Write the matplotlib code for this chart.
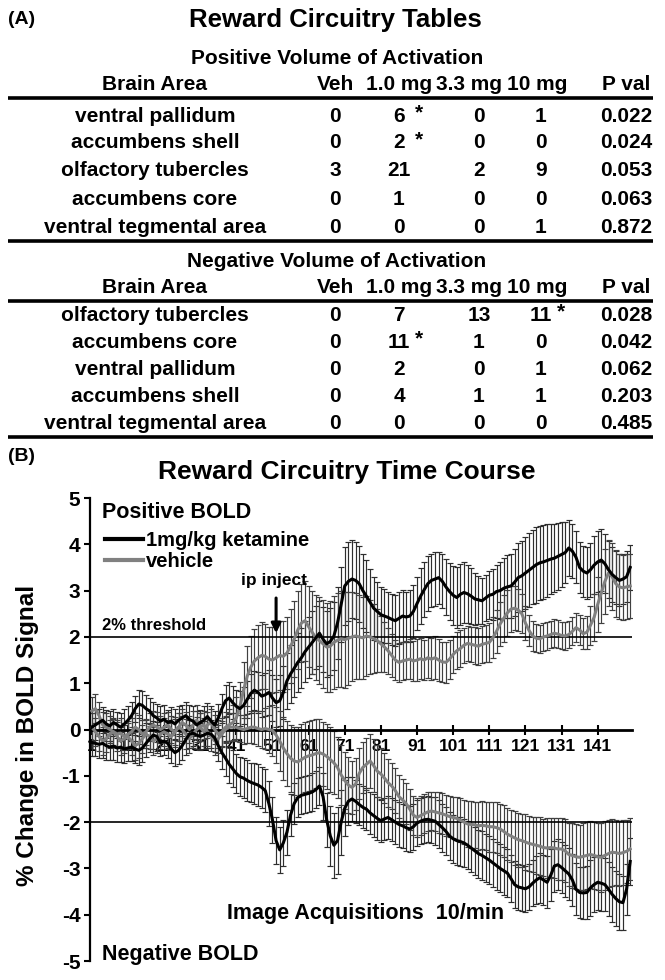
import numpy as np
import matplotlib
matplotlib.use('Agg')
import matplotlib.pyplot as plt
from matplotlib.lines import Line2D

plt.rcParams['font.family'] = ['Liberation Sans', 'DejaVu Sans']
plt.rcParams['font.weight'] = 'bold'

# ---------------- table data ----------------
col_names = ['Brain Area', 'Veh', '1.0 mg', '3.3 mg', '10 mg', 'P val']
pos_areas = ['ventral pallidum', 'accumbens shell', 'olfactory tubercles',
             'accumbens core', 'ventral tegmental area']
pos_veh = ['0', '0', '3', '0', '0']
pos_1mg = ['6*', '2*', '21', '1', '0']
pos_3mg = ['0', '0', '2', '0', '0']
pos_10mg = ['1', '0', '9', '0', '1']
pos_pval = ['0.022', '0.024', '0.053', '0.063', '0.872']

neg_areas = ['olfactory tubercles', 'accumbens core', 'ventral pallidum',
             'accumbens shell', 'ventral tegmental area']
neg_veh = ['0', '0', '0', '0', '0']
neg_1mg = ['7', '11*', '2', '4', '0']
neg_3mg = ['13', '1', '0', '1', '0']
neg_10mg = ['11*', '0', '1', '1', '0']
neg_pval = ['0.028', '0.042', '0.062', '0.203', '0.485']

# ---------------- time course data ----------------
acq = np.arange(1, 151)
tick_acq = np.arange(1, 150, 10)

ket_pos = [0.05,0.10,0.15,0.20,0.12,0.08,0.15,0.10,0.05,0.12,
           0.20,0.30,0.45,0.55,0.52,0.45,0.40,0.30,0.25,0.18,
           0.22,0.15,0.18,0.12,0.20,0.25,0.30,0.22,0.18,0.10,
           0.15,0.20,0.28,0.18,0.10,0.25,0.45,0.62,0.68,0.58,
           0.50,0.45,0.52,0.65,0.78,0.85,0.80,0.72,0.75,0.80,
           0.68,0.58,0.62,0.80,1.05,1.20,1.32,1.45,1.55,1.68,
           1.78,1.88,1.98,2.08,1.95,1.85,1.90,2.02,2.30,2.70,
           3.10,3.20,3.25,3.22,3.15,3.00,2.88,2.75,2.62,2.55,
           2.48,2.45,2.42,2.38,2.35,2.40,2.45,2.43,2.45,2.55,
           2.72,2.88,3.02,3.15,3.22,3.25,3.28,3.20,3.08,2.98,
           2.90,2.85,2.92,2.96,2.93,2.88,2.82,2.80,2.78,2.84,
           2.90,2.92,2.98,3.00,3.05,3.08,3.10,3.18,3.28,3.32,
           3.38,3.44,3.50,3.56,3.60,3.62,3.65,3.68,3.70,3.74,
           3.78,3.82,3.92,3.85,3.72,3.50,3.42,3.38,3.45,3.55,
           3.62,3.66,3.58,3.45,3.35,3.28,3.22,3.25,3.30,3.50]
ket_pos_err = [0.30,0.32,0.30,0.28,0.30,0.33,0.30,0.28,0.30,0.32,
               0.30,0.30,0.28,0.30,0.32,0.30,0.28,0.30,0.30,0.32,
               0.30,0.28,0.30,0.32,0.30,0.28,0.30,0.30,0.32,0.30,
               0.28,0.30,0.30,0.32,0.30,0.30,0.32,0.34,0.35,0.35,
               0.36,0.38,0.40,0.40,0.42,0.42,0.44,0.45,0.46,0.48,
               0.50,0.52,0.55,0.58,0.60,0.62,0.62,0.64,0.65,0.66,
               0.66,0.68,0.68,0.70,0.70,0.72,0.72,0.74,0.78,0.82,
               0.85,0.86,0.85,0.84,0.82,0.80,0.78,0.72,0.68,0.64,
               0.60,0.58,0.56,0.55,0.55,0.56,0.56,0.55,0.56,0.58,
               0.58,0.60,0.60,0.60,0.58,0.58,0.56,0.58,0.60,0.62,
               0.64,0.66,0.66,0.65,0.62,0.60,0.56,0.52,0.50,0.50,
               0.52,0.55,0.58,0.62,0.65,0.68,0.70,0.72,0.74,0.76,
               0.78,0.80,0.80,0.82,0.80,0.80,0.78,0.76,0.74,0.72,
               0.70,0.66,0.60,0.58,0.56,0.55,0.55,0.56,0.58,0.62,
               0.66,0.66,0.64,0.62,0.60,0.58,0.56,0.55,0.55,0.48]

veh_pos = [0.40,0.45,0.30,0.10,0.05,0.00,-0.05,-0.10,-0.08,-0.15,
           -0.10,-0.05,0.05,0.00,-0.10,-0.05,0.05,0.10,0.05,0.00,
           0.05,0.10,0.00,-0.05,0.05,0.15,0.10,0.00,0.10,0.20,
           0.05,-0.05,0.10,0.15,0.00,-0.10,-0.05,0.05,0.10,0.15,
           0.25,0.50,0.85,1.15,1.35,1.48,1.55,1.60,1.58,1.52,
           1.50,1.55,1.60,1.58,1.65,1.80,1.95,2.15,2.30,2.35,
           2.22,2.10,1.98,1.92,1.85,1.78,1.80,1.88,1.93,1.96,
           1.94,1.97,2.00,2.02,2.00,1.98,2.02,2.00,1.96,1.92,
           1.85,1.78,1.70,1.60,1.50,1.45,1.48,1.50,1.52,1.48,
           1.50,1.53,1.50,1.55,1.52,1.55,1.50,1.46,1.45,1.52,
           1.62,1.70,1.75,1.82,1.86,1.84,1.82,1.80,1.84,1.86,
           1.88,1.98,2.12,2.28,2.40,2.52,2.60,2.62,2.58,2.50,
           2.30,2.14,2.02,1.97,1.96,2.00,2.02,2.05,2.08,2.06,
           2.03,2.02,2.05,2.12,2.20,2.15,2.07,2.10,2.25,2.42,
           2.70,2.95,3.20,3.38,3.30,3.15,3.08,3.06,3.08,3.10]
veh_pos_err = [0.30,0.32,0.30,0.28,0.30,0.30,0.28,0.30,0.32,0.30,
               0.28,0.30,0.30,0.32,0.30,0.28,0.30,0.30,0.32,0.30,
               0.30,0.28,0.30,0.32,0.30,0.30,0.28,0.30,0.30,0.32,
               0.30,0.30,0.28,0.30,0.32,0.30,0.30,0.32,0.34,0.38,
               0.45,0.52,0.60,0.65,0.68,0.70,0.70,0.72,0.70,0.70,
               0.72,0.74,0.75,0.76,0.78,0.80,0.82,0.84,0.85,0.86,
               0.88,0.90,0.92,0.94,0.95,0.96,0.98,1.00,1.02,1.04,
               1.04,1.00,0.96,0.92,0.90,0.88,0.86,0.80,0.74,0.68,
               0.60,0.54,0.50,0.46,0.44,0.42,0.42,0.42,0.44,0.44,
               0.45,0.45,0.44,0.44,0.45,0.46,0.45,0.44,0.44,0.42,
               0.40,0.40,0.40,0.38,0.38,0.38,0.40,0.40,0.40,0.40,
               0.42,0.44,0.46,0.48,0.50,0.50,0.50,0.48,0.45,0.42,
               0.36,0.34,0.32,0.30,0.30,0.30,0.30,0.30,0.30,0.30,
               0.30,0.30,0.30,0.30,0.32,0.32,0.34,0.36,0.42,0.50,
               0.60,0.66,0.70,0.72,0.72,0.72,0.70,0.70,0.70,0.70]

ket_neg = [-0.28,-0.30,-0.32,-0.30,-0.35,-0.38,-0.36,-0.40,-0.38,-0.42,
           -0.40,-0.38,-0.42,-0.45,-0.40,-0.30,-0.20,-0.12,-0.15,-0.28,
           -0.25,-0.30,-0.42,-0.50,-0.45,-0.35,-0.22,-0.10,-0.08,-0.12,
           -0.15,-0.12,-0.08,-0.10,-0.18,-0.35,-0.50,-0.62,-0.75,-0.85,
           -0.95,-1.02,-1.05,-1.10,-1.14,-1.17,-1.20,-1.25,-1.32,-1.60,
           -1.95,-2.40,-2.60,-2.45,-2.22,-1.85,-1.60,-1.47,-1.42,-1.40,
           -1.38,-1.35,-1.30,-1.22,-1.45,-1.95,-2.30,-2.50,-2.40,-2.00,
           -1.70,-1.55,-1.50,-1.55,-1.62,-1.68,-1.72,-1.80,-1.86,-1.92,
           -1.97,-1.93,-1.90,-1.95,-2.00,-2.05,-2.08,-2.12,-2.15,-2.10,
           -2.02,-1.98,-1.95,-1.94,-1.96,-1.98,-2.05,-2.12,-2.20,-2.30,
           -2.36,-2.40,-2.42,-2.45,-2.50,-2.56,-2.62,-2.68,-2.72,-2.77,
           -2.82,-2.88,-2.94,-3.00,-3.05,-3.10,-3.22,-3.35,-3.40,-3.42,
           -3.44,-3.40,-3.32,-3.25,-3.20,-3.25,-3.30,-3.15,-2.95,-2.92,
           -2.98,-3.05,-3.12,-3.25,-3.45,-3.52,-3.53,-3.52,-3.42,-3.35,
           -3.30,-3.32,-3.35,-3.45,-3.56,-3.65,-3.72,-3.74,-3.45,-2.85]
ket_neg_err = [0.30,0.28,0.30,0.32,0.30,0.28,0.30,0.30,0.32,0.30,
               0.28,0.30,0.30,0.32,0.30,0.30,0.28,0.30,0.32,0.30,
               0.30,0.32,0.30,0.28,0.30,0.30,0.32,0.30,0.28,0.30,
               0.30,0.30,0.32,0.30,0.30,0.34,0.36,0.38,0.40,0.40,
               0.42,0.42,0.44,0.44,0.42,0.44,0.45,0.45,0.46,0.48,
               0.50,0.50,0.50,0.50,0.48,0.46,0.44,0.42,0.40,0.40,
               0.40,0.40,0.40,0.42,0.50,0.58,0.65,0.70,0.72,0.70,
               0.60,0.52,0.48,0.46,0.45,0.45,0.45,0.45,0.46,0.46,
               0.45,0.45,0.46,0.46,0.48,0.48,0.48,0.50,0.50,0.50,
               0.50,0.50,0.50,0.50,0.50,0.52,0.52,0.52,0.52,0.52,
               0.52,0.52,0.52,0.52,0.52,0.52,0.52,0.52,0.52,0.52,
               0.52,0.52,0.52,0.52,0.52,0.52,0.50,0.50,0.50,0.50,
               0.50,0.50,0.50,0.52,0.54,0.55,0.56,0.56,0.55,0.55,
               0.56,0.56,0.56,0.56,0.56,0.56,0.56,0.58,0.60,0.60,
               0.60,0.60,0.58,0.58,0.60,0.60,0.60,0.58,0.55,0.50]

veh_neg = [0.05,-0.05,-0.15,-0.25,-0.20,-0.10,-0.05,-0.15,-0.25,-0.20,
           -0.15,-0.25,-0.35,-0.30,-0.20,-0.10,-0.15,-0.25,-0.20,-0.10,
           -0.05,-0.10,-0.15,-0.05,0.05,0.00,-0.10,-0.20,-0.10,0.00,
           0.05,0.10,-0.05,-0.15,-0.25,-0.20,-0.10,0.00,0.05,0.05,
           0.05,0.02,0.00,0.02,0.05,0.05,0.02,0.00,0.02,0.00,
           -0.02,-0.12,-0.25,-0.40,-0.52,-0.62,-0.68,-0.70,-0.65,-0.60,
           -0.57,-0.55,-0.52,-0.50,-0.53,-0.58,-0.65,-0.72,-0.82,-0.98,
           -1.10,-1.20,-1.25,-1.18,-0.95,-0.82,-0.75,-0.68,-0.78,-0.90,
           -0.96,-1.05,-1.15,-1.22,-1.32,-1.45,-1.52,-1.60,-1.72,-1.85,
           -1.90,-1.86,-1.82,-1.78,-1.76,-1.78,-1.80,-1.82,-1.85,-1.88,
           -1.90,-1.92,-1.96,-2.00,-2.04,-2.05,-2.06,-2.08,-2.07,-2.08,
           -2.10,-2.10,-2.12,-2.15,-2.20,-2.26,-2.30,-2.34,-2.38,-2.40,
           -2.43,-2.46,-2.48,-2.50,-2.52,-2.55,-2.56,-2.55,-2.56,-2.58,
           -2.58,-2.62,-2.70,-2.72,-2.75,-2.76,-2.74,-2.72,-2.70,-2.72,
           -2.75,-2.76,-2.72,-2.68,-2.65,-2.66,-2.68,-2.66,-2.63,-2.58]
veh_neg_err = [0.30,0.30,0.32,0.30,0.28,0.30,0.30,0.32,0.30,0.30,
               0.28,0.30,0.30,0.32,0.30,0.30,0.28,0.30,0.30,0.32,
               0.30,0.30,0.30,0.28,0.30,0.30,0.32,0.30,0.30,0.28,
               0.30,0.30,0.30,0.32,0.30,0.30,0.28,0.30,0.30,0.30,
               0.30,0.30,0.32,0.32,0.34,0.36,0.38,0.40,0.44,0.50,
               0.55,0.60,0.64,0.68,0.70,0.72,0.74,0.75,0.76,0.76,
               0.76,0.75,0.74,0.72,0.70,0.70,0.70,0.68,0.66,0.64,
               0.62,0.60,0.58,0.56,0.55,0.55,0.56,0.58,0.58,0.56,
               0.55,0.54,0.52,0.50,0.48,0.46,0.45,0.44,0.44,0.42,
               0.42,0.42,0.42,0.42,0.42,0.42,0.44,0.44,0.44,0.45,
               0.45,0.46,0.48,0.48,0.50,0.50,0.50,0.52,0.52,0.52,
               0.54,0.54,0.55,0.55,0.56,0.56,0.56,0.58,0.58,0.58,
               0.60,0.60,0.60,0.62,0.62,0.62,0.64,0.64,0.64,0.66,
               0.66,0.68,0.68,0.70,0.70,0.70,0.72,0.72,0.72,0.72,
               0.72,0.74,0.74,0.72,0.72,0.70,0.70,0.70,0.68,0.66]

# ---------------- figure ----------------
fig = plt.figure(figsize=(6.65, 9.8), dpi=100)

# overlay in pixel units for the tables and free text
ax_t = fig.add_axes([0, 0, 1, 1])
ax_t.set_xlim(0, 665)
ax_t.set_ylim(980, 0)
ax_t.axis('off')

ax_t.text(8, 20, '(A)', fontsize=14, ha='left', va='center')
ax_t.text(335, 20, 'Reward Circuitry Tables', fontsize=18.5, ha='center', va='center')

col_x = [155, 335, 399, 469, 537, 626]
val_x = [155, 335, 399, 479, 541, 626]
line_x = (8, 653)


def draw_table(y_sub, sub_title, y_rows, areas, cols):
    ax_t.text(337, y_sub, sub_title, fontsize=15, ha='center', va='center')
    y_head = y_sub + 26
    for cx, name in zip(col_x, col_names):
        ax_t.text(cx, y_head, name, fontsize=15, ha='center', va='center')
    ax_t.hlines(y_head + 14, *line_x, color='black', lw=2.6)
    for r, yr in enumerate(y_rows):
        ax_t.text(val_x[0], yr, areas[r], fontsize=15, ha='center', va='center')
        for k, col in enumerate(cols):
            s = col[r]
            star = s.endswith('*')
            s = s.rstrip('*')
            ax_t.text(val_x[k + 1], yr, s, fontsize=15, ha='center', va='center')
            if star:
                ax_t.text(val_x[k + 1] + 20, yr - 3, '*', fontsize=15,
                          ha='center', va='center')
    ax_t.hlines(y_rows[-1] + 14, *line_x, color='black', lw=2.6)


draw_table(58, 'Positive Volume of Activation', [116, 143, 171, 199, 227],
           pos_areas, [pos_veh, pos_1mg, pos_3mg, pos_10mg, pos_pval])
draw_table(261, 'Negative Volume of Activation', [315, 342, 369, 396, 423],
           neg_areas, [neg_veh, neg_1mg, neg_3mg, neg_10mg, neg_pval])

ax_t.text(8, 456, '(B)', fontsize=14, ha='left', va='center')
ax_t.text(347, 472, 'Reward Circuitry Time Course', fontsize=19, ha='center', va='center')
ax_t.text(28, 735, '% Change in BOLD Signal', fontsize=17.5, rotation=90,
          ha='center', va='center')

# ---------------- time course ----------------
ax = fig.add_axes([90 / 665, 1 - 961 / 980, 542 / 665, 463 / 980])
ax.patch.set_alpha(0)

black = '#000000'
grey = '#808080'
for y, e, ec in [(ket_pos, ket_pos_err, '#2e2e2e'),
                 (veh_pos, veh_pos_err, '#404040'),
                 (ket_neg, ket_neg_err, '#2e2e2e'),
                 (veh_neg, veh_neg_err, '#404040')]:
    ax.errorbar(acq, y, yerr=e, fmt='none', ecolor=ec, elinewidth=0.85,
                capsize=2.4, capthick=0.85, zorder=2)
for y, c in [(veh_pos, grey), (veh_neg, grey), (ket_pos, black), (ket_neg, black)]:
    ax.plot(acq, y, color=c, lw=2.2, zorder=3)

ax.axhline(2, color='black', lw=1.2, zorder=2.5)
ax.axhline(-2, color='black', lw=1.2, zorder=2.5)

ax.set_xlim(0.5, 150.5)
ax.set_ylim(-5, 5)
ax.spines['top'].set_visible(False)
ax.spines['right'].set_visible(False)
ax.spines['bottom'].set_position(('data', 0))
ax.spines['bottom'].set_linewidth(2.0)
ax.spines['left'].set_linewidth(1.6)
ax.set_xticks(tick_acq)
ax.set_xticklabels([str(t) for t in tick_acq], fontsize=12.5)
ax.tick_params(axis='x', direction='inout', length=7, width=1.5, pad=3)
ax.set_yticks(np.arange(-5, 6))
ax.set_yticklabels([str(t) for t in range(-5, 6)], fontsize=15)
ax.tick_params(axis='y', direction='out', length=4, width=1.5, pad=3)

ax.text(3.8, 4.68, 'Positive BOLD', fontsize=15.5, ha='left', va='center')
ax.text(3.8, 2.25, '2% threshold', fontsize=12, ha='left', va='center')
ax.text(38.5, -3.98, 'Image Acquisitions  10/min', fontsize=15.5, ha='left', va='center')
ax.text(3.8, -4.85, 'Negative BOLD', fontsize=15.5, ha='left', va='center')
ax.annotate('', xy=(52, 2.02), xytext=(52, 2.9),
            arrowprops=dict(arrowstyle='-|>', color='black', lw=2.2, mutation_scale=14))
ax.text(51.5, 3.22, 'ip inject', fontsize=12.5, ha='center', va='center')

handles = [Line2D([], [], color=black, lw=3), Line2D([], [], color=grey, lw=3)]
ax.legend(handles, ['1mg/kg ketamine', 'vehicle'], loc='upper left',
          bbox_to_anchor=(105 / 665, 1 - 531 / 980), bbox_transform=fig.transFigure,
          frameon=False, prop={'size': 14.5, 'weight': 'bold'}, handlelength=1.9,
          handletextpad=0.15, labelspacing=0.08, borderpad=0, borderaxespad=0)

fig.savefig('out.png', dpi=100)
